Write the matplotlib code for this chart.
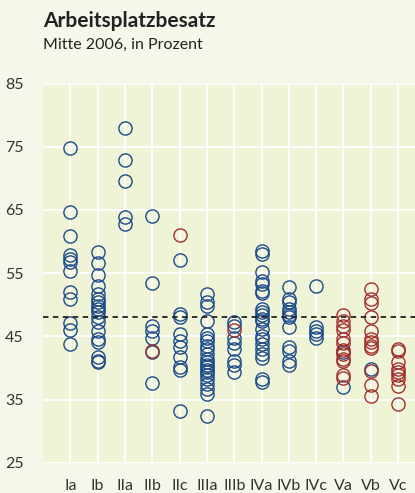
import numpy as np
import matplotlib.pyplot as plt

# Arbeitsplatzbesatz nach Gemeindetyp, Mitte 2006 (in Prozent)
categories = ['Ia', 'Ib', 'IIa', 'IIb', 'IIc', 'IIIa', 'IIIb',
              'IVa', 'IVb', 'IVc', 'Va', 'Vb', 'Vc']

blue_vals = {
    'Ia': [74.8, 64.6, 60.9, 57.8, 57.2, 56.8, 55.3, 52.0, 50.9, 47.1, 46.0, 43.8],
    'Ib': [58.4, 56.6, 54.7, 53.0, 51.7, 50.9, 50.4, 49.8, 49.3, 48.8, 48.0,
           47.2, 45.9, 44.6, 44.1, 41.7, 41.1, 40.9],
    'IIa': [77.9, 72.9, 69.6, 63.8, 62.8],
    'IIb': [64.1, 53.5, 46.7, 45.9, 44.7, 42.5, 37.6],
    'IIc': [57.0, 48.5, 48.1, 45.4, 44.3, 43.3, 41.7, 40.2, 39.6, 33.2],
    'IIIa': [51.7, 50.5, 49.8, 47.5, 45.4, 44.8, 44.3, 43.5, 43.0, 42.2, 41.4,
             40.9, 40.5, 40.1, 39.7, 39.3, 38.8, 38.2, 37.5, 36.7, 35.9, 32.4],
    'IIIb': [47.2, 46.7, 44.8, 44.0, 43.0, 41.1, 40.5, 39.4],
    'IVa': [58.5, 58.0, 55.1, 53.8, 53.3, 52.2, 51.8, 49.3, 48.8, 48.4, 47.8,
            47.5, 46.2, 45.1, 44.6, 43.8, 43.0, 42.2, 41.5, 38.2, 37.7],
    'IVb': [52.8, 50.9, 50.4, 49.3, 48.8, 48.4, 48.0, 46.4, 43.3, 42.7, 41.1, 40.5],
    'IVc': [53.0, 46.4, 45.9, 45.4, 44.7],
    'Va': [42.5, 36.9],
    'Vb': [39.8],
    'Vc': [],
}

red_vals = {
    'IIb': [42.7],
    'IIc': [61.1],
    'IIIb': [46.0],
    'Va': [48.4, 47.5, 46.7, 46.0, 44.6, 43.9, 42.9, 42.2, 41.4, 41.1, 38.8, 38.4],
    'Vb': [52.5, 50.9, 50.3, 48.0, 45.9, 44.6, 44.1, 43.5, 43.1, 39.5, 37.3, 35.5],
    'Vc': [43.0, 42.7, 41.0, 39.8, 39.3, 38.8, 38.2, 37.2, 34.3],
}

mean_line = 48.0
yticks = [25, 35, 45, 55, 65, 75, 85]

blue = '#1c4a8a'
red = '#a3302e'
fig_bg = '#f5f7ea'
ax_bg = '#eff4d7'

fig = plt.figure(figsize=(4.15, 4.93), dpi=100, facecolor=fig_bg)
ax = fig.add_axes([43 / 415, 1 - 462.7 / 493, 1 - 43 / 415, (462.7 - 83.5) / 493])
ax.set_facecolor(ax_bg)

for i, cat in enumerate(categories):
    b = blue_vals.get(cat, [])
    ax.plot([i] * len(b), b, 'o', mfc='none', mec=blue, mew=1.0, ms=9.5, zorder=3)
    r = red_vals.get(cat, [])
    ax.plot([i] * len(r), r, 'o', mfc='none', mec=red, mew=1.0, ms=9.5, zorder=3)

ax.axhline(mean_line, color='#222222', lw=1.3, ls=(0, (3, 2.5)), zorder=4)

ax.set_xlim(-1, 12.62)
ax.set_ylim(25, 85)
ax.set_xticks(range(len(categories)))
ax.set_xticklabels(categories)
ax.set_yticks(yticks)
ax.grid(True, color='white', lw=1.3, zorder=1)
ax.set_axisbelow(True)
for s in ax.spines.values():
    s.set_visible(False)
ax.tick_params(length=0, labelsize=11.5, labelcolor='#333333')
ax.tick_params(axis='y', pad=14)
ax.tick_params(axis='x', pad=12)
for lab in ax.get_xticklabels() + ax.get_yticklabels():
    lab.set_fontfamily('Lato')

fig.text(43 / 415, 1 - 11 / 493, 'Arbeitsplatzbesatz', fontsize=15, fontweight='bold',
         family='Lato', color='#222222', va='top', ha='left')
fig.text(43 / 415, 1 - 38 / 493, 'Mitte 2006, in Prozent', fontsize=11.5,
         family='Lato', color='#222222', va='top', ha='left')

fig.savefig('out.png', dpi=100, facecolor=fig_bg)
